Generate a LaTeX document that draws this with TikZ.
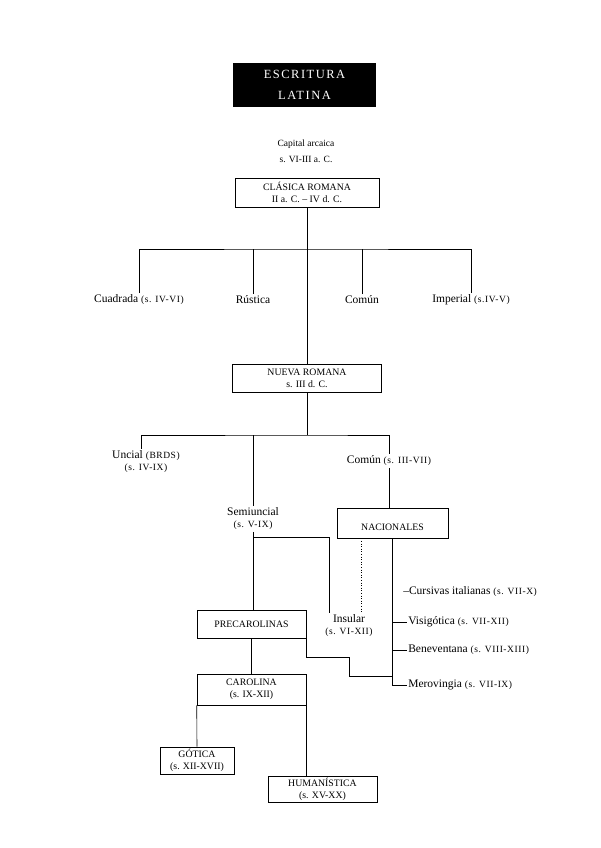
\documentclass[tikz,border=0pt]{standalone}
\usepackage{fontspec}
\setmainfont{Liberation Serif}
\usetikzlibrary{positioning}
\tikzset{every path/.style={black, line width=0.6pt},
  caja/.style={draw, align=center, inner sep=1pt, font=\fontsize{9.8}{12}\selectfont},
  rama/.style={align=center, inner sep=1.5pt, font=\fontsize{11.5}{12}\selectfont},
  lado/.style={anchor=west, inner sep=1pt, font=\fontsize{11.5}{12}\selectfont}}
\newcommand{\sig}[1]{{\fontsize{9.5}{11}\selectfont\addfontfeatures{LetterSpace=6}#1}}

\begin{document}
\begin{tikzpicture}[x=1pt, y=-1pt]
   \useasboundingbox (0,0) rectangle (601,848);
   % titulo
   \node[fill=black, text=white, minimum width=143pt, minimum height=44pt, align=center,
         font=\fontsize{12.5}{21}\selectfont\addfontfeatures{LetterSpace=12}] (titulo) at (304.5,85) {ESCRITURA\\LATINA};
   \node[align=center, font=\fontsize{9.5}{16}\selectfont] (capital) at (306,151) {Capital arcaica\\s. VI-III a. C.};
   \node[caja, minimum width=144pt, minimum height=29pt] (clasica) at (307,192.5) {CLÁSICA ROMANA\\II a. C. -- IV d. C.};
   % primera rama
   \node[rama] (cuadrada) at (139,300) {Cuadrada \sig{(s. IV-VI)}};
   \node[rama] (rustica) at (253,300) {Rústica};
   \node[rama] (comun) at (362,300) {Común};
   \node[rama] (imperial) at (471,300) {Imperial \sig{(s.IV-V)}};
   \coordinate (barra) at (307,249);
   \draw (cuadrada.north) |- (barra) -| (imperial.north);
   \draw (rustica.north) -- (rustica.north |- barra);
   \draw (comun.north) -- (comun.north |- barra);
   \node[caja, minimum width=149pt, minimum height=28pt] (nueva) at (307,378) {NUEVA ROMANA\\s. III d. C.};
   \draw (clasica) -- (nueva);
   % segunda rama
   \node[rama] (uncial) at (146,462) {Uncial \sig{(BRDS)}\\ \sig{(s. IV-IX)}};
   \node[rama] (semiuncial) at (253,519) {Semiuncial\\ \sig{(s. V-IX)}};
   \node[rama] (comun2) at (389,461) {Común \sig{(s. III-VII)}};
   \coordinate (cruce) at (307,435);
   \draw (uncial.north -| 141,0) |- (cruce) -| (comun2.north);
   \draw (nueva) -- (cruce);
   \draw (semiuncial.north) -- (semiuncial.north |- cruce);
   \node[caja, minimum width=111pt, minimum height=30pt, text height=15pt, text depth=1pt] (nacionales) at (392.5,523) {NACIONALES};
   \draw (comun2.south) -- (comun2.south |- nacionales.north);
   \node[rama] (insular) at (349,626) {Insular\\ \sig{(s. VI-XII)}};
   \node[caja, minimum width=109pt, minimum height=28pt] (precarolinas) at (251.5,624) {PRECAROLINAS};
   \coordinate (semi) at (253,537);
   \draw (semiuncial.south) -- (semiuncial.south |- precarolinas.north);
   \draw (semi) -| (insular.north -| 329,0);
   \draw[dotted] (nacionales.south -| 361,0) -- (insular.north -| 361,0);
   % nacionales
   \node[lado] (cursivas) at (402,592) {--Cursivas italianas \sig{(s. VII-X)}};
   \node[lado] (visigotica) at (407,622) {Visigótica \sig{(s. VII-XII)}};
   \node[lado] (beneventana) at (407,650) {Beneventana \sig{(s. VIII-XIII)}};
   \node[lado] (merovingia) at (407,685) {Merovingia \sig{(s. VII-IX)}};
   \draw (nacionales.south) |- (merovingia.west);
   \draw (nacionales.south |- visigotica.west) -- (visigotica.west);
   \draw (nacionales.south |- beneventana.west) -- (beneventana.west);
   \draw (precarolinas.south east) |- (349,657) |- (nacionales.south |- 0,676);
   % carolina
   \node[caja, minimum width=109pt, minimum height=31pt] (carolina) at (251.5,689.5) {CAROLINA\\(s. IX-XII)};
   \node[caja, minimum width=74pt, minimum height=27pt] (gotica) at (197,760.5) {GÓTICA\\(s. XII-XVII)};
   \node[caja, minimum width=109pt, minimum height=26pt] (humanistica) at (322.5,789) {HUMANÍSTICA\\(s. XV-XX)};
   \draw (precarolinas) -- (carolina);
   \draw (carolina.south west) -- (gotica.north);
   \draw (carolina.south east) -- (carolina.south east |- humanistica.north);
\end{tikzpicture}
\end{document}
